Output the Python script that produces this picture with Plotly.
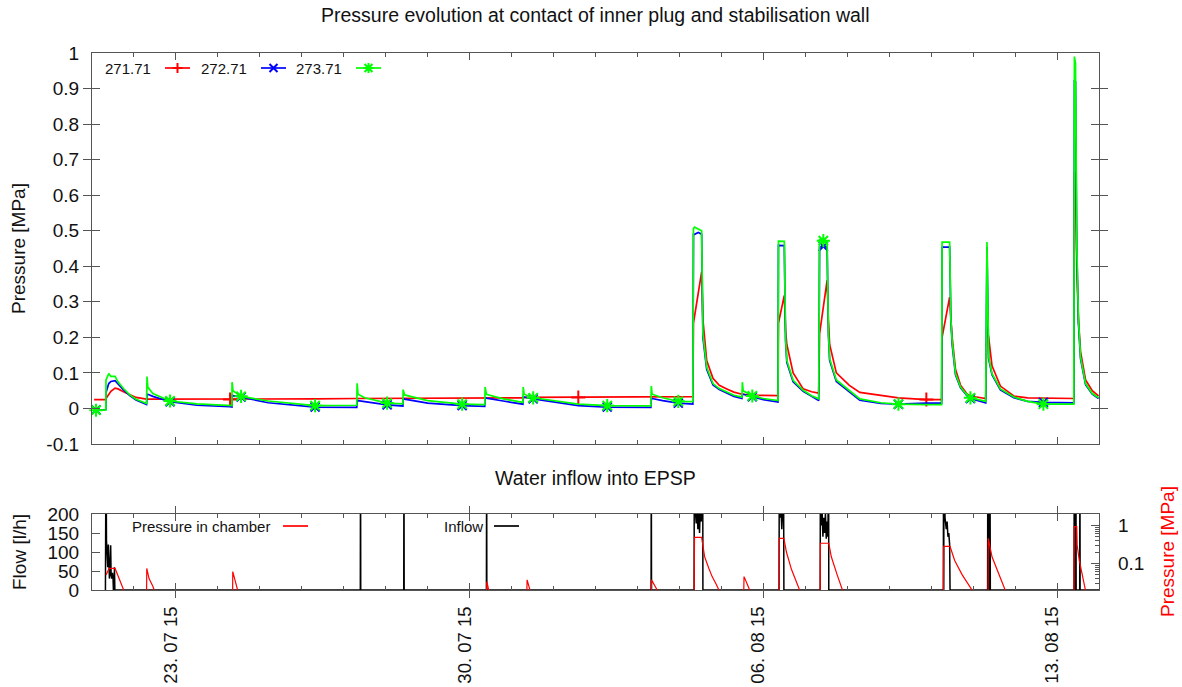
import numpy as np
import pandas as pd
import plotly.graph_objects as go

START = pd.Timestamp("2015-07-21")
END = pd.Timestamp("2015-08-14")

# ---- sensor readings at the plug / wall contact [MPa] ----
# time axis: elapsed days since 21.07.2015 00:00
t_sensor = [
    0.05, 0.095, 0.33, 0.334, 0.40, 0.45, 0.55, 0.62, 0.75, 0.90, 1.05, 1.30,
    1.311, 1.33, 1.45, 1.86, 2.5, 3.29, 3.335, 3.338, 3.36, 3.553, 4.2, 5.317,
    6.31, 6.319, 6.34, 6.5, 7.034, 7.41, 7.415, 7.45, 8.0, 8.822, 9.36, 9.37,
    9.40, 9.8, 10.27, 10.277, 10.30, 10.515, 11.3, 11.59, 12.28, 13.32, 13.33,
    13.35, 13.6, 13.973, 14.32, 14.335, 14.36, 14.45, 14.53, 14.56, 14.65,
    14.80, 14.95, 15.13, 15.3, 15.49, 15.50, 15.52, 15.737, 16.0, 16.35, 16.36,
    16.50, 16.53, 16.56, 16.71, 16.95, 17.15, 17.32, 17.34, 17.43, 17.52, 17.55,
    17.58, 17.74, 18.05, 18.30, 18.8, 19.22, 19.885, 20.25, 20.26, 20.44, 20.47,
    20.50, 20.58, 20.70, 20.86, 20.935, 21.30, 21.316, 21.33, 21.37, 21.45,
    21.65, 21.97, 22.3, 22.675, 23.40, 23.414, 23.44, 23.47, 23.51, 23.56,
    23.68, 23.84, 23.99,
]
p_271_71 = [
    0.025, 0.025, 0.025, 0.028, 0.038, 0.048, 0.057, 0.055, 0.047, 0.038, 0.031, 0.026,
    0.026, 0.026, 0.026, 0.026, 0.025, 0.025, 0.025, 0.026, 0.026, 0.027, 0.027, 0.027,
    0.028, 0.028, 0.028, 0.028, 0.028, 0.029, 0.029, 0.029, 0.029, 0.030, 0.030, 0.030,
    0.030, 0.030, 0.030, 0.030, 0.031, 0.031, 0.031, 0.031, 0.031, 0.032, 0.032,
    0.032, 0.032, 0.033, 0.033, 0.240, 0.260, 0.320, 0.384, 0.250, 0.135,
    0.085, 0.065, 0.055, 0.046, 0.040, 0.040, 0.040, 0.037, 0.036, 0.036, 0.240,
    0.318, 0.220, 0.180, 0.100, 0.055, 0.047, 0.043, 0.210, 0.290, 0.360, 0.250,
    0.180, 0.100, 0.065, 0.045, 0.036, 0.030, 0.025, 0.025, 0.200, 0.313, 0.250,
    0.200, 0.110, 0.065, 0.040, 0.035, 0.028, 0.229, 0.229, 0.200, 0.120,
    0.063, 0.035, 0.030, 0.030, 0.028, 0.666, 0.660, 0.400, 0.250, 0.160,
    0.080, 0.050, 0.035,
]
p_272_71 = [
    -0.003, -0.004, -0.003, 0.045, 0.070, 0.076, 0.078, 0.068, 0.052, 0.036, 0.024, 0.011,
    0.040, 0.040, 0.034, 0.019, 0.009, 0.005, 0.004, 0.037, 0.036, 0.032, 0.016, 0.004,
    0.003, 0.022, 0.022, 0.019, 0.010, 0.007, 0.028, 0.026, 0.015, 0.008, 0.006, 0.030,
    0.029, 0.021, 0.012, 0.033, 0.032, 0.027, 0.012, 0.008, 0.004, 0.003, 0.028,
    0.028, 0.022, 0.015, 0.012, 0.490, 0.490, 0.495, 0.490, 0.200, 0.110,
    0.066, 0.053, 0.043, 0.034, 0.028, 0.040, 0.040, 0.033, 0.025, 0.018, 0.459,
    0.458, 0.190, 0.130, 0.075, 0.048, 0.033, 0.022, 0.454, 0.456, 0.455, 0.210,
    0.135, 0.076, 0.047, 0.023, 0.014, 0.012, 0.015, 0.015, 0.454, 0.454, 0.250,
    0.180, 0.095, 0.058, 0.035, 0.028, 0.016, 0.454, 0.454, 0.140, 0.095,
    0.052, 0.030, 0.020, 0.017, 0.016, 0.924, 0.920, 0.450, 0.240, 0.140,
    0.067, 0.040, 0.028,
]
p_273_71 = [
    -0.004, -0.005, -0.004, 0.080, 0.098, 0.090, 0.090, 0.075, 0.056, 0.038, 0.026, 0.014,
    0.090, 0.060, 0.042, 0.021, 0.013, 0.009, 0.008, 0.074, 0.050, 0.034, 0.021, 0.008,
    0.009, 0.071, 0.040, 0.030, 0.015, 0.013, 0.053, 0.038, 0.022, 0.012, 0.011, 0.060,
    0.040, 0.027, 0.017, 0.060, 0.040, 0.030, 0.016, 0.012, 0.008, 0.007, 0.063,
    0.040, 0.030, 0.020, 0.019, 0.506, 0.510, 0.505, 0.500, 0.210, 0.116,
    0.070, 0.056, 0.046, 0.037, 0.032, 0.074, 0.050, 0.035, 0.028, 0.022, 0.471,
    0.470, 0.200, 0.135, 0.079, 0.051, 0.036, 0.027, 0.475, 0.472, 0.470, 0.220,
    0.140, 0.080, 0.050, 0.027, 0.016, 0.012, 0.011, 0.011, 0.468, 0.468, 0.250,
    0.190, 0.098, 0.060, 0.037, 0.030, 0.020, 0.468, 0.468, 0.145, 0.098,
    0.055, 0.032, 0.020, 0.012, 0.012, 0.990, 0.970, 0.470, 0.250, 0.145,
    0.070, 0.042, 0.030,
]
# readings that carry a point symbol
marks_271_71 = [3.29, 11.59, 19.885]
marks_272_273 = [0.095, 1.86, 3.553, 5.317, 7.034, 8.822, 10.515, 12.28,
                 13.973, 15.737, 17.43, 19.22, 20.935, 22.675]

# ---- water inflow into EPSP [l/h] ----
t_flow = [
    0.32, 0.334, 0.345, 0.36, 0.375, 0.39, 0.40, 0.415, 0.43, 0.445, 0.455, 0.47,
    0.49, 0.50, 0.51, 0.53, 0.535, 0.545,
    6.395, 6.40, 6.405, 7.43, 7.435, 7.44, 9.40, 9.406, 9.41, 13.325, 13.33, 13.335,
    14.35, 14.355, 14.38, 14.40, 14.42, 14.44, 14.46, 14.48, 14.50, 14.52, 14.54,
    14.555, 14.56,
    16.375, 16.38, 16.40, 16.42, 16.44, 16.46, 16.48, 16.49,
    17.355, 17.36, 17.38, 17.40, 17.42, 17.44, 17.46, 17.48, 17.50, 17.52, 17.54,
    17.555, 17.56,
    20.29, 20.295, 20.30, 20.305, 20.33, 20.36, 20.38, 20.40, 20.42, 20.44, 20.45,
    21.345, 21.35, 21.36, 21.37, 21.38, 21.40, 21.41,
    23.405, 23.41, 23.42, 23.43, 23.44, 23.45, 23.455, 23.54, 23.545, 23.55, 24.0,
]
inflow = [
    0, 400, 130, 100, 60, 120, 50, 30, 55, 118, 40, 30,
    45, 35, 0, 0, 60, 0,
    0, 400, 0, 0, 400, 0, 0, 400, 0, 0, 400, 0,
    0, 400, 210, 175, 230, 160, 220, 150, 240, 180, 260,
    400, 0,
    0, 400, 190, 220, 160, 210, 400, 0,
    0, 400, 170, 210, 140, 190, 150, 200, 135, 180, 140,
    400, 0,
    0, 400, 0, 400, 190, 160, 180, 140, 150, 120, 0,
    0, 400, 0, 400, 0, 400, 0,
    0, 400, 0, 400, 0, 400, 0, 0, 400, 0, 0,
]

# ---- pressure in chamber [MPa] ----
t_chamber = [
    0.334, 0.41, 0.55, 0.65, 0.77, 0.80,
    1.30, 1.305, 1.36, 1.45, 1.52,
    3.35, 3.355, 3.42, 3.50,
    9.40, 9.41, 9.48,
    10.36, 10.37, 10.47,
    13.33, 13.335, 13.45, 13.52,
    14.35, 14.355, 14.36, 14.53, 14.56, 14.60, 14.70, 14.78, 14.88, 14.96,
    15.53, 15.54, 15.62, 15.72,
    16.375, 16.38, 16.49, 16.55, 16.67, 16.78, 16.88,
    17.355, 17.36, 17.56, 17.62, 17.76, 17.90,
    20.29, 20.30, 20.45, 20.56, 20.74, 20.88, 21.0,
    21.355, 21.36, 21.45, 21.59, 21.70, 21.78,
    23.405, 23.41, 23.47, 23.48, 23.53, 23.60, 23.68, 23.70,
]
p_chamber = [
    0.05, 0.074, 0.074, 0.04, 0.02, 0.015,
    0.012, 0.074, 0.04, 0.025, 0.015,
    0.012, 0.061, 0.03, 0.015,
    0.012, 0.033, 0.015,
    0.012, 0.037, 0.015,
    0.012, 0.037, 0.022, 0.015,
    0.012, 0.1, 0.486, 0.486, 0.276, 0.151, 0.075, 0.045, 0.028, 0.018,
    0.012, 0.045, 0.028, 0.015,
    0.012, 0.457, 0.457, 0.2, 0.07, 0.035, 0.018,
    0.012, 0.34, 0.34, 0.15, 0.05, 0.018,
    0.012, 0.28, 0.28, 0.12, 0.05, 0.03, 0.018,
    0.012, 0.457, 0.15, 0.06, 0.03, 0.018,
    0.012, 0.93, 0.93, 0.3, 0.12, 0.05, 0.022, 0.015,
]

# ---- axis ticks ----
p_ticks = [-0.1, 0.0, 0.1, 0.2, 0.3, 0.4, 0.5, 0.6, 0.7, 0.8, 0.9, 1.0]
p_tick_text = ["-0.1", "0", "0.1", "0.2", "0.3", "0.4", "0.5", "0.6", "0.7", "0.8", "0.9", "1"]
flow_ticks = [0, 50, 100, 150, 200]
log_ticks = [0.1, 1]
log_tick_text = ["0.1", "1"]
log_minor = [0.03, 0.04, 0.05, 0.06, 0.07, 0.08, 0.09,
             0.2, 0.3, 0.4, 0.5, 0.6, 0.7, 0.8, 0.9, 2]

RED, BLUE, GREEN, BLACK = "#ff0000", "#0000ff", "#00ff00", "#000000"
AXIS = "#555555"
TEXT = "#111111"
FONT = "Liberation Sans"
FMT = "%Y-%m-%d %H:%M:%S"


def to_time(days):
    stamps = START + pd.to_timedelta(np.asarray(days, dtype=float), unit="D")
    return [s.strftime(FMT) for s in stamps]


ts = to_time(t_sensor)
fig = go.Figure()

series = [
    ("271.71", p_271_71, RED, "cross-thin", 10, marks_271_71),
    ("272.71", p_272_71, BLUE, "x-thin", 9, marks_272_273),
    ("273.71", p_273_71, GREEN, "asterisk", 11, marks_272_273),
]
for name, vals, col, sym, msize, marks in series:
    fig.add_trace(go.Scatter(x=ts, y=vals, mode="lines", name=name,
                             line=dict(color=col, width=1.7), xaxis="x", yaxis="y",
                             showlegend=False))
    idx = [t_sensor.index(m) for m in marks]
    fig.add_trace(go.Scatter(x=[ts[i] for i in idx], y=[vals[i] for i in idx], mode="markers",
                             marker=dict(symbol=sym, size=msize, color=col,
                                         line=dict(color=col, width=2)),
                             xaxis="x", yaxis="y", showlegend=False, cliponaxis=False))

# lower panel: inflow (left axis) and chamber pressure (log right axis)
fig.add_trace(go.Scatter(x=to_time(t_flow), y=inflow, mode="lines",
                         line=dict(color=BLACK, width=1.5), xaxis="x2", yaxis="y2",
                         showlegend=False))
fig.add_trace(go.Scatter(x=to_time(t_chamber), y=p_chamber, mode="lines",
                         line=dict(color=RED, width=1.2), xaxis="x2", yaxis="y3",
                         showlegend=False))
# empty series that keep the extra tick-only axes on the page
for xa, ya in [("x2", "y4"), ("x3", "y"), ("x4", "y2")]:
    fig.add_trace(go.Scatter(x=[None], y=[None], xaxis=xa, yaxis=ya, showlegend=False,
                             hoverinfo="skip"))


# ---- key entries: label followed by a line sample (and point glyph) ----
def px_x(px):
    return (px - 92) / 1007


def px_y(py):
    return (590 - py) / 537


GLYPHS = {
    "plus": "M-5,0 L5,0 M0,-5 L0,5",
    "cross": "M-4,-4 L4,4 M-4,4 L4,-4",
    "star": "M-5,0 L5,0 M0,-5 L0,5 M-4,-4 L4,4 M-4,4 L4,-4",
}

keys = [
    ("271.71", 153, 165, 190, 68, RED, "plus"),
    ("272.71", 249, 261, 286, 68, BLUE, "cross"),
    ("273.71", 344, 356, 381, 68, GREEN, "star"),
    ("Pressure in chamber", 272, 283, 308, 526, RED, None),
    ("Inflow", 485, 494, 519, 526, BLACK, None),
]
annotations = []
key_shapes = []
for text, tx, x0, x1, yy, col, glyph in keys:
    annotations.append(dict(text=text, x=px_x(tx), y=px_y(yy), xref="paper", yref="paper",
                            xanchor="right", yanchor="middle", showarrow=False,
                            font=dict(family=FONT, size=15, color=TEXT)))
    key_shapes.append(dict(type="line", xref="paper", yref="paper",
                           x0=px_x(x0), x1=px_x(x1), y0=px_y(yy), y1=px_y(yy),
                           line=dict(color=col, width=1.7)))
    if glyph:
        key_shapes.append(dict(type="path", xref="paper", yref="paper",
                               xsizemode="pixel", ysizemode="pixel",
                               xanchor=px_x((x0 + x1) / 2), yanchor=px_y(yy),
                               path=GLYPHS[glyph], line=dict(color=col, width=2)))

annotations += [
    dict(text="Pressure evolution at contact of inner plug and stabilisation wall",
         x=0.5, y=px_y(15), xref="paper", yref="paper", showarrow=False,
         xanchor="center", yanchor="middle", font=dict(family=FONT, size=19.5, color=TEXT)),
    dict(text="Water inflow into EPSP", x=0.5, y=px_y(478), xref="paper", yref="paper",
         showarrow=False, xanchor="center", yanchor="middle",
         font=dict(family=FONT, size=19.5, color=TEXT)),
    dict(text="Pressure [MPa]", x=px_x(19), y=px_y(249), xref="paper", yref="paper",
         textangle=-90, showarrow=False, xanchor="center", yanchor="middle",
         font=dict(family=FONT, size=19, color=TEXT)),
    dict(text="Flow [l/h]", x=px_x(19), y=px_y(552), xref="paper", yref="paper",
         textangle=-90, showarrow=False, xanchor="center", yanchor="middle",
         font=dict(family=FONT, size=19, color=TEXT)),
    dict(text="Pressure [MPa]", x=px_x(1167), y=px_y(552), xref="paper", yref="paper",
         textangle=-90, showarrow=False, xanchor="center", yanchor="middle",
         font=dict(family=FONT, size=19, color=RED)),
]

DAY = 86400000
XRANGE = [START.strftime(FMT), END.strftime(FMT)]
frame = dict(showline=True, linecolor=AXIS, linewidth=1.2, showgrid=False,
             zeroline=False, automargin=False)
# weekly ticks with labels, plus daily tick marks on overlaid axes
xweek = dict(range=XRANGE, type="date", tick0="2015-07-23", dtick=7 * DAY,
             ticks="inside", ticklen=7, tickcolor=AXIS, tickwidth=1.2,
             mirror="allticks", **frame)
xday = dict(range=XRANGE, type="date", tick0="2015-07-21", dtick=DAY,
            ticks="inside", ticklen=4, tickcolor=AXIS, tickwidth=1.2,
            mirror="allticks", showticklabels=False, showline=False, showgrid=False,
            zeroline=False, automargin=False)
ycommon = dict(ticks="inside", ticklen=8, tickcolor=AXIS, tickwidth=1.2,
               tickfont=dict(family=FONT, size=19, color=TEXT), **frame)

fig.update_layout(
    width=1182, height=687,
    margin=dict(l=92, r=83, t=53, b=97),
    paper_bgcolor="white", plot_bgcolor="white",
    font=dict(family=FONT, size=19, color=TEXT),
    showlegend=False,
    xaxis=dict(domain=[0, 1], anchor="y", showticklabels=False, **xweek),
    xaxis2=dict(domain=[0, 1], anchor="y2", showticklabels=True, tickformat="%d. %m %y",
                tickangle=-90, ticklabelstandoff=8, ticklabelshift=-5,
                tickfont=dict(family=FONT, size=18.5, color=TEXT), **xweek),
    xaxis3=dict(overlaying="x", anchor="y", **xday),
    xaxis4=dict(overlaying="x2", anchor="y2", **xday),
    yaxis=dict(domain=[px_y(444), 1], anchor="x", range=[-0.1, 1.0], tickmode="array",
               tickvals=p_ticks, ticktext=p_tick_text, mirror="allticks",
               ticklabelstandoff=8, **ycommon),
    yaxis2=dict(domain=[0, px_y(514)], anchor="x2", range=[0, 200], tickmode="array",
                tickvals=flow_ticks, ticklabelstandoff=8, **ycommon),
    yaxis3=dict(overlaying="y2", anchor="x2", side="right", type="log",
                range=[np.log10(0.02), np.log10(2)], tickmode="array",
                tickvals=log_ticks, ticktext=log_tick_text, ticklabelstandoff=14, **ycommon),
    yaxis4=dict(overlaying="y2", anchor="x2", side="right", type="log",
                range=[np.log10(0.02), np.log10(2)], tickmode="array",
                tickvals=log_minor, showticklabels=False, ticks="inside", ticklen=4,
                tickcolor=AXIS, tickwidth=1.2, showline=False, showgrid=False,
                zeroline=False, automargin=False),
    annotations=annotations,
    shapes=key_shapes,
)

fig.write_html("out.html")
